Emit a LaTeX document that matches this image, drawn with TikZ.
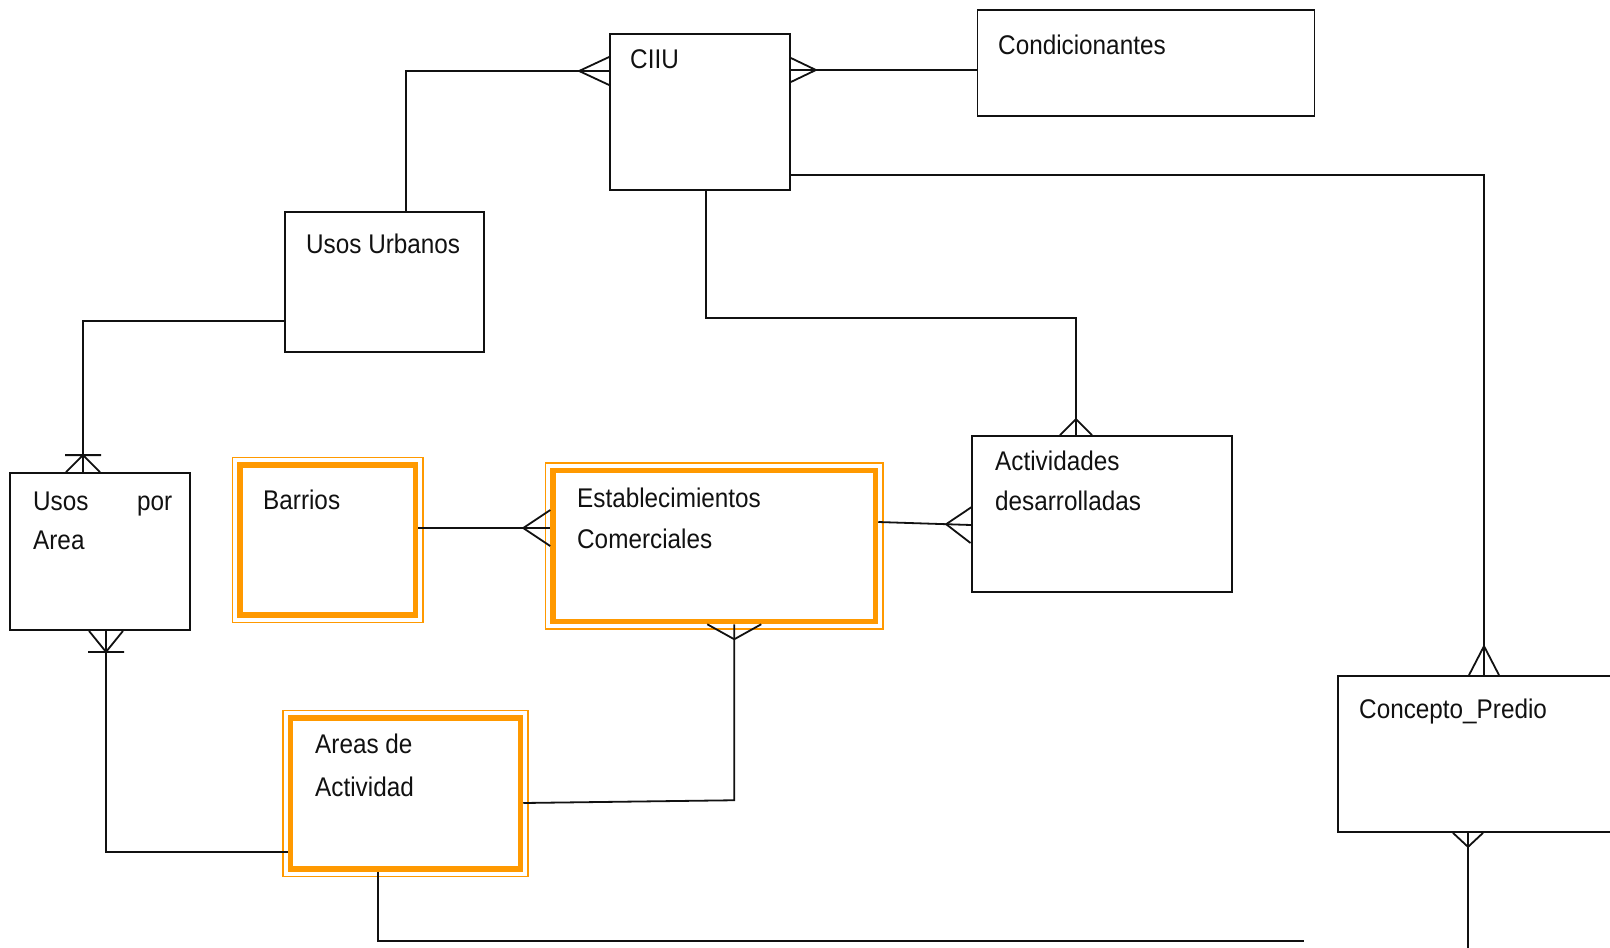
\documentclass[tikz,border=0pt]{standalone}
\usepackage{fontspec}
\setmainfont[FakeStretch=0.9]{Liberation Sans}
\usetikzlibrary{calc,decorations.markings}
\definecolor{erInk}{HTML}{111111}
\definecolor{erWeak}{HTML}{FF9900}
\tikzset{
  entity/.style={draw=erInk, line width=1.8pt, inner sep=0pt},
  weakent/.style={draw=erWeak, line width=5.5pt, inner sep=0pt},
  weakrim/.style={draw=erWeak, line width=1.8pt},
  erlabel/.style={anchor=base west, inner sep=0pt, align=left, text=erInk,
    font=\fontsize{27}{41}\selectfont},
  link/.style={draw=erInk, line width=1.8pt},
  crow end/.style 2 args={postaction={decorate, decoration={markings,
    mark=at position 1 with {\draw[link] (0,#2) -- (-#1,0) -- (0,-#2);}}}},
  crow start/.style 2 args={postaction={decorate, decoration={markings,
    mark=at position 0 with {\draw[link] (0,#2) -- (#1,0) -- (0,-#2);}}}},
  crowbar end/.style 2 args={postaction={decorate, decoration={markings,
    mark=at position 1 with {\draw[link] (0,#2) -- (-#1,0) -- (0,-#2) (-#1,#2+1pt) -- (-#1,-#2-1pt);}}}},
  crowbar start/.style 2 args={postaction={decorate, decoration={markings,
    mark=at position 0 with {\draw[link] (0,#2) -- (#1,0) -- (0,-#2) (#1,#2+1pt) -- (#1,-#2-1pt);}}}}
}
\begin{document}
\begin{tikzpicture}[x=1pt, y=-1pt]
  \clip (0,0) rectangle (1610,948);
  \fill[white] (0,0) rectangle (1610,948);

  \node[entity, minimum width=180pt, minimum height=156pt] (ciiu) at (700,112) {};
  \node[entity, minimum width=337pt, minimum height=106pt] (cond) at (1146,63) {};
  \node[entity, minimum width=199pt, minimum height=140pt] (uu) at (384.5,282) {};
  \node[entity, minimum width=180pt, minimum height=157pt] (upa) at (100,551.5) {};
  \node[entity, minimum width=260pt, minimum height=156pt] (act) at (1102,514) {};
  \node[entity, minimum width=292pt, minimum height=156pt] (cp) at (1484,754) {};
  \node[weakent, minimum width=175.5pt, minimum height=150pt] (barrios) at (327.75,540) {};
  \node[weakent, minimum width=322.5pt, minimum height=151pt] (estab) at (714.25,546) {};
  \node[weakent, minimum width=230pt, minimum height=151pt] (areas) at (405.5,793.5) {};

  \draw[weakrim] ([shift={(-4.75,-4.75)}]barrios.north west) rectangle ([shift={(4.75,4.75)}]barrios.south east);
  \draw[weakrim] ([shift={(-4.75,-4.75)}]estab.north west) rectangle ([shift={(4.75,4.75)}]estab.south east);
  \draw[weakrim] ([shift={(-4.75,-4.75)}]areas.north west) rectangle ([shift={(4.75,4.75)}]areas.south east);

  \node[erlabel] (ciiuT) at (630,68) {CIIU};
  \node[erlabel] (condT) at (998,54) {Condicionantes};
  \node[erlabel] (uuT) at (306,253) {Usos Urbanos};
  \node[erlabel] (upaT) at (33,549) {\makebox[139pt][l]{Usos\hfill por}\\[-2pt]Area};
  \node[erlabel] (barriosT) at (263,509) {Barrios};
  \node[erlabel] (estabT) at (577,548) {Establecimientos\\Comerciales};
  \node[erlabel] (actT) at (995,510) {Actividades\\[-1pt]desarrolladas};
  \node[erlabel] (areasT) at (315,796) {Areas de\\[2pt]Actividad};
  \node[erlabel] (cpT) at (1359,718) {Concepto\_Predio};

  \coordinate (stub) at (1304,941);
  \coordinate (cpend) at (1468,960);

  \draw[link, crow end={30pt}{14pt}] ([xshift=21.5pt]uu.north) |- (ciiu.west |- 0,71);
  \draw[link, crow start={25pt}{12pt}] (ciiu.east |- 0,70) -- (cond.west |- 0,70);
  \draw[link, crow end={29pt}{15pt}] (ciiu.east |- 0,175) -| (cp.north);
  \draw[link, crow end={16pt}{16pt}] ([xshift=6pt]ciiu.south) -- ++(0,127) -| ([xshift=-26pt]act.north);
  \draw[link, crowbar end={17pt}{17pt}] (uu.west |- 0,321) -| ([xshift=-17pt]upa.north);
  \draw[link, crowbar start={21pt}{17pt}] ([xshift=6pt]upa.south) |- (areas.west |- 0,852);
  \draw[link, crow end={27pt}{18pt}] (barrios.east |- 0,528) -- (estab.west |- 0,528);
  \draw[link, crow end={25pt}{18pt}] (estab.east |- 0,522) -- (act.west |- 0,525);
  \draw[link, crow start={15pt}{27pt}] ([xshift=20pt]estab.south) -- ++(0,176) -- (areas.east |- 0,803);
  \draw[link] ([xshift=-27.5pt]areas.south) |- (stub);
  \draw[link, crow start={14pt}{15pt}] ([xshift=-16pt]cp.south) -- (cpend);
\end{tikzpicture}
\end{document}
